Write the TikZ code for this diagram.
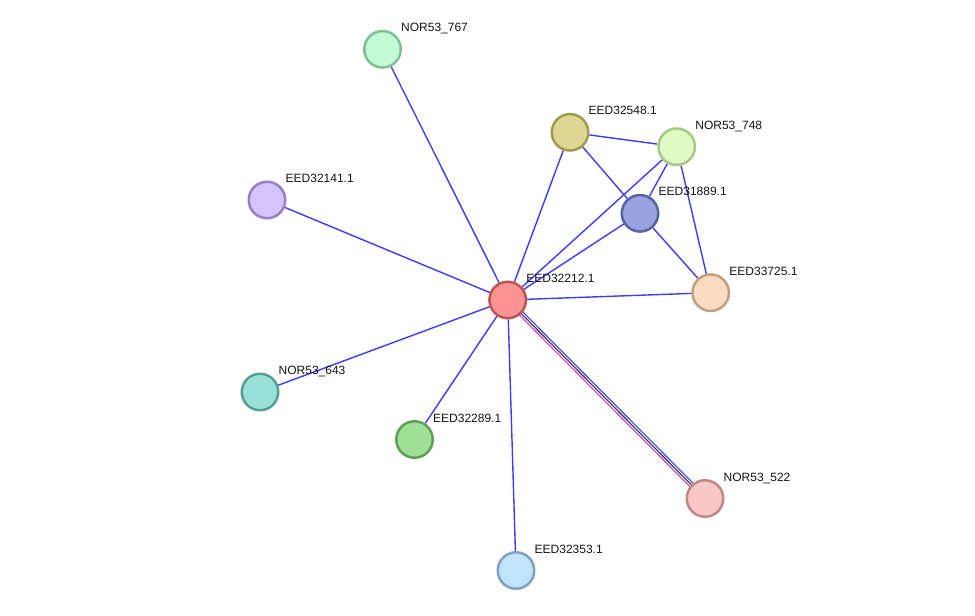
\documentclass[tikz,border=0pt]{standalone}
\usepackage{fontspec}
\setmainfont{Liberation Sans}
\usetikzlibrary{calc,backgrounds}
\definecolor{edgeblue}{RGB}{60,60,250}
\definecolor{edgemag}{RGB}{210,60,210}
\definecolor{edgedark}{RGB}{50,50,50}
\definecolor{f767}{RGB}{195,250,215}\definecolor{b767}{RGB}{128,192,150}
\definecolor{f141}{RGB}{212,196,252}\definecolor{b141}{RGB}{152,128,200}
\definecolor{f353}{RGB}{192,228,252}\definecolor{b353}{RGB}{128,164,192}
\definecolor{f643}{RGB}{152,224,216}\definecolor{b643}{RGB}{88,160,150}
\definecolor{f289}{RGB}{160,224,150}\definecolor{b289}{RGB}{96,160,84}
\definecolor{f522}{RGB}{248,200,200}\definecolor{b522}{RGB}{192,136,136}
\definecolor{f212}{RGB}{252,148,148}\definecolor{b212}{RGB}{192,84,84}
\definecolor{f548}{RGB}{220,216,148}\definecolor{b548}{RGB}{160,154,80}
\definecolor{f748}{RGB}{224,252,196}\definecolor{b748}{RGB}{168,200,136}
\definecolor{f889}{RGB}{152,164,224}\definecolor{b889}{RGB}{88,100,160}
\definecolor{f725}{RGB}{252,220,192}\definecolor{b725}{RGB}{192,160,128}
\begin{document}
\begin{tikzpicture}[x=1pt,y=-1pt,
  prot/.style={circle, minimum size=36.5pt, inner sep=0pt, line width=2.5pt},
  lab/.style={anchor=base west, inner sep=0pt, font=\fontsize{12}{14}\selectfont, text=black!92},
  edge/.style={line width=1.4pt, draw=edgeblue},
  thin edge/.style={line width=1.1pt}]
\useasboundingbox (0,0) rectangle (975,616);
% nodes
\node[prot, fill=f767, draw=b767] (n767) at (382.5,49.3) {};
\node[prot, fill=f548, draw=b548] (n548) at (570,132.3) {};
\node[prot, fill=f748, draw=b748] (n748) at (676.7,146.7) {};
\node[prot, fill=f141, draw=b141] (n141) at (267,200) {};
\node[prot, fill=f889, draw=b889] (n889) at (640,213.3) {};
\node[prot, fill=f212, draw=b212] (n212) at (507.7,300) {};
\node[prot, fill=f725, draw=b725] (n725) at (710.7,292.7) {};
\node[prot, fill=f643, draw=b643] (n643) at (260,392) {};
\node[prot, fill=f289, draw=b289] (n289) at (414.5,439.5) {};
\node[prot, fill=f522, draw=b522] (n522) at (705,498.5) {};
\node[prot, fill=f353, draw=b353] (n353) at (516,570.5) {};
% labels
\node[lab] (t767) at ($(n767)+(18.5,-17.4)$) {NOR53\_767};
\node[lab] (t548) at ($(n548)+(18.5,-17.4)$) {EED32548.1};
\node[lab] (t748) at ($(n748)+(18.5,-17.4)$) {NOR53\_748};
\node[lab] (t141) at ($(n141)+(18.5,-17.4)$) {EED32141.1};
\node[lab] (t889) at ($(n889)+(18.5,-17.4)$) {EED31889.1};
\node[lab] (t212) at ($(n212)+(18.5,-17.4)$) {EED32212.1};
\node[lab] (t725) at ($(n725)+(18.5,-17.4)$) {EED33725.1};
\node[lab] (t643) at ($(n643)+(18.5,-17.4)$) {NOR53\_643};
\node[lab] (t289) at ($(n289)+(18.5,-17.4)$) {EED32289.1};
\node[lab] (t522) at ($(n522)+(18.5,-17.4)$) {NOR53\_522};
\node[lab] (t353) at ($(n353)+(18.5,-17.4)$) {EED32353.1};
% edges
\begin{scope}[on background layer]
\draw[edge] (n212) -- (n767);
\draw[edge] (n212) -- (n141);
\draw[edge] (n212) -- (n643);
\draw[edge] (n212) -- (n289);
\draw[edge] (n212) -- (n353);
\draw[edge] (n212) -- (n725);
\draw[edge] (n212) -- (n548);
\draw[edge] (n212) -- (n748);
\draw[edge] (n212) -- (n889);
\draw[edge] (n548) -- (n748);
\draw[edge] (n548) -- (n889);
\draw[edge] (n748) -- (n889);
\draw[edge] (n748) -- (n725);
\draw[edge] (n889) -- (n725);
\draw[thin edge, draw=edgeblue] ($(n212)!2.3pt!90:(n522)$) -- ($(n522)!2.3pt!-90:(n212)$);
\draw[thin edge, draw=edgedark] (n212.center) -- (n522.center);
\draw[thin edge, draw=edgemag] ($(n212)!2.3pt!-90:(n522)$) -- ($(n522)!2.3pt!90:(n212)$);
\end{scope}
\end{tikzpicture}
\end{document}
